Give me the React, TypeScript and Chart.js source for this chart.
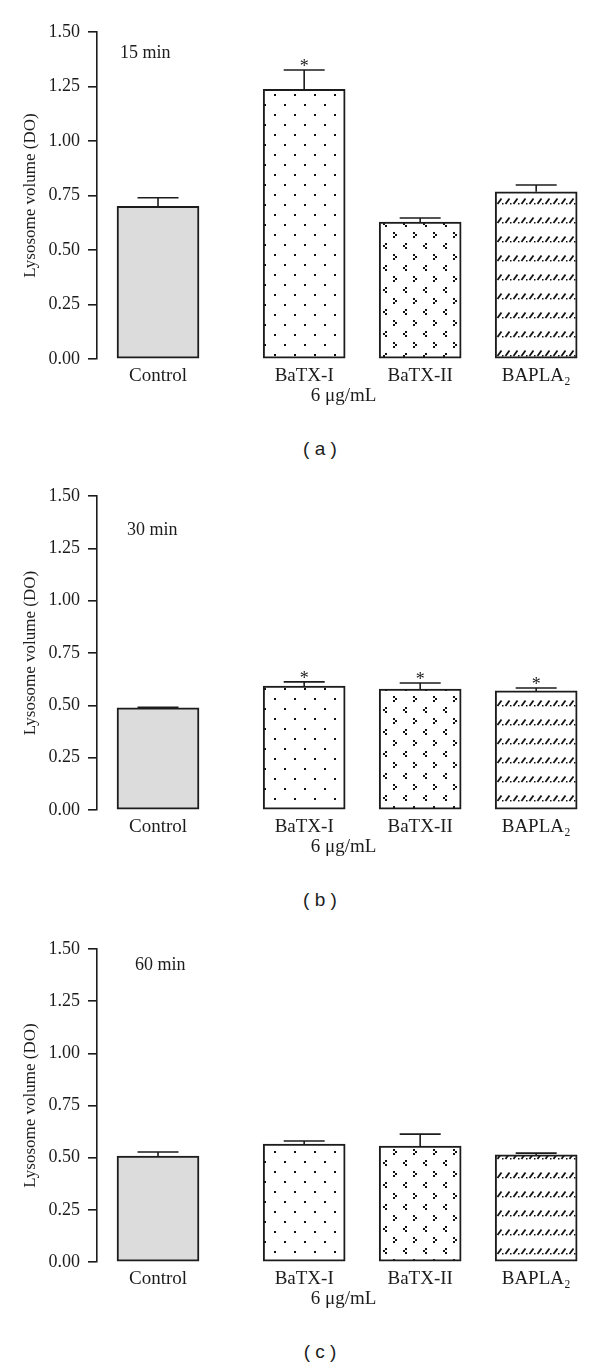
import React, { useEffect, useRef } from 'react';
import { Chart, registerables } from 'chart.js';

Chart.register(...registerables);

// ---------------- data ----------------
const categories = ['Control', 'BaTX-I', 'BaTX-II', 'BAPLA₂'];
const doseLabel = '6 μg/mL';
const yAxisLabel = 'Lysosome volume (DO)';
const yTickValues = [0, 0.25, 0.5, 0.75, 1.0, 1.25, 1.5];
const timeLabels = ['15 min', '30 min', '60 min'];
const panelLetters = ['a', 'b', 'c'];

const mean15 = [0.70, 1.237, 0.628, 0.767];
const sem15 = [0.04, 0.089, 0.019, 0.031];
const sig15 = [false, true, false, false];

const mean30 = [0.488, 0.592, 0.578, 0.569];
const sem30 = [0.003, 0.02, 0.029, 0.014];
const sig30 = [false, true, true, true];

const mean60 = [0.508, 0.565, 0.556, 0.513];
const sem60 = [0.019, 0.015, 0.057, 0.009];
const sig60 = [false, false, false, false];

// ---------------- layout / style ----------------
const INK = '#1c1c1c';
const SERIF = '"Liberation Serif", "Times New Roman", Times, serif';
const GROUP_GAP = 0.26; // extra space between control and treated group (axis units)
const X_MIN = -0.526;
const X_MAX = 3.724;
const X_AXIS_H = 48;
const PLOT_TOP = 32;

const panelLayouts = [
  { canvasTop: 0, plotHeight: 327, noteDx: 23, noteDy: 21 },
  { canvasTop: 464, plotHeight: 314, noteDx: 30, noteDy: 34 },
  { canvasTop: 917, plotHeight: 313, noteDx: 38, noteDy: 16 },
];

const panelData = [
  { means: mean15, sem: sem15, sig: sig15 },
  { means: mean30, sem: sem30, sig: sig30 },
  { means: mean60, sem: sem60, sig: sig60 },
];

const slotX = (i: number) => (i === 0 ? 0 : i + GROUP_GAP);

function makePattern(kind: string): CanvasPattern | string {
  const c = document.createElement('canvas');
  const ctx = c.getContext('2d');
  if (!ctx) return '#fff';
  if (kind === 'dots') {
    c.width = 20; c.height = 20;
    ctx.fillStyle = '#fff'; ctx.fillRect(0, 0, 20, 20);
    ctx.fillStyle = '#111';
    ctx.fillRect(4, 4, 2, 2);
    ctx.fillRect(14, 14, 2, 2);
  } else if (kind === 'chevrons') {
    c.width = 20; c.height = 22;
    ctx.fillStyle = '#fff'; ctx.fillRect(0, 0, 20, 22);
    ctx.fillStyle = '#111';
    // "<"
    ctx.fillRect(5, 1, 2, 2); ctx.fillRect(3, 3, 2, 2); ctx.fillRect(5, 5, 2, 2);
    // ">"
    ctx.fillRect(13, 12, 2, 2); ctx.fillRect(15, 14, 2, 2); ctx.fillRect(13, 16, 2, 2);
  } else {
    c.width = 8; c.height = 19;
    ctx.fillStyle = '#fff'; ctx.fillRect(0, 0, 8, 19);
    ctx.strokeStyle = '#111';
    ctx.lineWidth = 1.8;
    ctx.beginPath();
    ctx.moveTo(1.5, 14); ctx.lineTo(5.5, 8.5);
    ctx.stroke();
    ctx.fillStyle = '#111';
    ctx.fillRect(6, 13, 1.5, 1.5);
  }
  const p = ctx.createPattern(c, 'repeat');
  return p || '#fff';
}

function Panel({ idx }: { idx: number }) {
  const ref = useRef<HTMLCanvasElement | null>(null);
  const lay = panelLayouts[idx];
  const canvasH = PLOT_TOP + lay.plotHeight + X_AXIS_H;

  useEffect(() => {
    const d = panelData[idx];
    const fills = ['#dcdcdc', makePattern('dots'), makePattern('chevrons'), makePattern('slashes')];

    const annotate = {
      id: 'annotate' + idx,
      afterDatasetsDraw(chart: any) {
        const { ctx, chartArea } = chart;
        const y = chart.scales.y;
        const meta = chart.getDatasetMeta(0);
        ctx.save();
        ctx.strokeStyle = INK;
        ctx.fillStyle = INK;
        ctx.lineWidth = 1.6;
        meta.data.forEach((bar: any, i: number) => {
          const capY = y.getPixelForValue(d.means[i] + d.sem[i]);
          ctx.beginPath();
          ctx.moveTo(bar.x, bar.y);
          ctx.lineTo(bar.x, capY);
          ctx.moveTo(bar.x - 20.5, capY);
          ctx.lineTo(bar.x + 20.5, capY);
          ctx.stroke();
          if (d.sig[i]) {
            ctx.font = '18px ' + SERIF;
            ctx.textAlign = 'center';
            ctx.textBaseline = 'alphabetic';
            ctx.fillText('*', bar.x, capY + 2);
          }
        });
        ctx.font = '18px ' + SERIF;
        ctx.textAlign = 'left';
        ctx.textBaseline = 'middle';
        ctx.fillText(timeLabels[idx], chartArea.left + lay.noteDx, chartArea.top + lay.noteDy);
        ctx.restore();
      },
    };

    const chart = new Chart(ref.current as HTMLCanvasElement, {
      type: 'bar',
      data: {
        datasets: [
          {
            label: timeLabels[idx],
            data: d.means.map((v, i) => ({ x: slotX(i), y: v })),
            backgroundColor: fills as any,
            borderColor: INK,
            borderWidth: 2,
            borderSkipped: false,
            barThickness: 82,
          } as any,
        ],
      },
      options: {
        animation: false,
        responsive: false,
        maintainAspectRatio: false,
        layout: { padding: { top: PLOT_TOP, right: 10, bottom: 0, left: 0 } },
        plugins: {
          legend: { display: false },
          tooltip: { enabled: false },
          title: { display: false },
        },
        scales: {
          x: {
            type: 'linear',
            offset: false,
            min: X_MIN,
            max: X_MAX,
            afterBuildTicks: (axis: any) => {
              axis.ticks = categories.map((_, i) => ({ value: slotX(i) }));
            },
            afterFit: (axis: any) => {
              axis.height = X_AXIS_H;
            },
            ticks: {
              autoSkip: false,
              maxRotation: 0,
              padding: 6,
              color: INK,
              font: { family: SERIF, size: 19 },
              callback: (_v: any, i: number) => categories[i],
            },
            grid: { display: false, drawTicks: false },
            border: { display: false },
            title: {
              display: true,
              text: doseLabel,
              color: INK,
              font: { family: SERIF, size: 19 },
              padding: { top: 0, bottom: 0 },
            },
          },
          y: {
            type: 'linear',
            min: 0,
            max: 1.5,
            afterBuildTicks: (axis: any) => {
              axis.ticks = yTickValues.map((v) => ({ value: v }));
            },
            afterFit: (axis: any) => {
              axis.width = 97;
            },
            ticks: {
              padding: 8,
              color: INK,
              font: { family: SERIF, size: 18 },
              callback: (v: any) => Number(v).toFixed(2),
            },
            grid: {
              display: true,
              drawOnChartArea: false,
              drawTicks: true,
              tickLength: 9,
              color: INK,
              lineWidth: 1.6,
            },
            border: { display: true, color: INK, width: 1.6 },
            title: {
              display: true,
              text: yAxisLabel,
              color: INK,
              font: { family: SERIF, size: 17 },
              padding: { top: 20, bottom: 0 },
            },
          },
        },
      } as any,
      plugins: [annotate],
    });
    return () => chart.destroy();
  }, [idx]);

  const captionCenter = lay.canvasTop + PLOT_TOP + lay.plotHeight + 91;

  return (
    <>
      <div style={{ position: 'absolute', left: 0, top: lay.canvasTop, width: 600, height: canvasH }}>
        <canvas ref={ref} width={600} height={canvasH} style={{ display: 'block', width: 600, height: canvasH }} />
      </div>
      <div
        style={{
          position: 'absolute',
          left: 270,
          width: 100,
          top: captionCenter - 12,
          height: 24,
          lineHeight: '24px',
          textAlign: 'center',
          font: '19px "Liberation Sans", Arial, sans-serif',
          color: INK,
          whiteSpace: 'pre',
        }}
      >
        {'( ' + panelLetters[idx] + ' )'}
      </div>
    </>
  );
}

export default function App() {
  return (
    <div style={{ position: 'absolute', left: 0, top: 0, width: 600, height: 1368, background: '#fff', overflow: 'hidden' }}>
      {panelLayouts.map((_, i) => (
        <Panel key={i} idx={i} />
      ))}
    </div>
  );
}
